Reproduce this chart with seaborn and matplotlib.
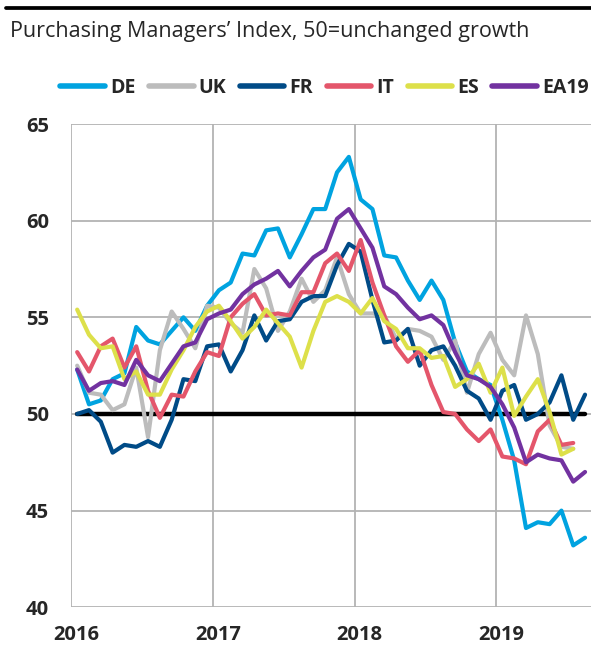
import numpy as np
import pandas as pd
import seaborn as sns
import matplotlib
matplotlib.use("Agg")
import matplotlib.pyplot as plt
from matplotlib.lines import Line2D
from matplotlib.transforms import ScaledTranslation

# monthly manufacturing PMI, Jan 2016 onwards (DE, FR, EA19 include Aug 2019 flash)
de = [52.3, 50.5, 50.7, 51.8, 52.1, 54.5, 53.8, 53.6, 54.3, 55.0, 54.3, 55.6,
      56.4, 56.8, 58.3, 58.2, 59.5, 59.6, 58.1, 59.3, 60.6, 60.6, 62.5, 63.3,
      61.1, 60.6, 58.2, 58.1, 56.9, 55.9, 56.9, 55.9, 53.7, 52.2, 51.8, 51.5,
      49.7, 47.6, 44.1, 44.4, 44.3, 45.0, 43.2, 43.6]
uk = [52.5, 51.1, 51.0, 50.2, 50.5, 52.4, 48.8, 53.3, 55.3, 54.4, 53.4, 55.6,
      55.5, 54.7, 54.2, 57.5, 56.5, 54.3, 55.3, 57.0, 55.8, 56.4, 58.1, 56.2,
      55.2, 55.2, 55.1, 53.9, 54.4, 54.3, 54.0, 52.8, 53.8, 51.1, 53.1, 54.2,
      52.8, 52.0, 55.1, 53.1, 49.4, 48.3, 48.2]
fr = [50.0, 50.2, 49.6, 48.0, 48.4, 48.3, 48.6, 48.3, 49.7, 51.8, 51.7, 53.5,
      53.6, 52.2, 53.3, 55.1, 53.8, 54.8, 54.9, 55.8, 56.1, 56.1, 57.7, 58.8,
      58.4, 55.9, 53.7, 53.8, 54.4, 52.5, 53.3, 53.5, 52.5, 51.2, 50.8, 49.7,
      51.2, 51.5, 49.7, 50.0, 50.6, 52.0, 49.7, 51.0]
it = [53.2, 52.2, 53.5, 53.9, 52.4, 53.5, 51.2, 49.8, 51.0, 50.9, 52.2, 53.2,
      53.0, 55.0, 55.7, 56.2, 55.1, 55.2, 55.1, 56.3, 56.3, 57.8, 58.3, 57.4,
      59.0, 56.8, 55.1, 53.5, 52.7, 53.3, 51.5, 50.1, 50.0, 49.2, 48.6, 49.2,
      47.8, 47.7, 47.4, 49.1, 49.7, 48.4, 48.5]
es = [55.4, 54.1, 53.4, 53.5, 51.8, 52.2, 51.0, 51.0, 52.3, 53.3, 54.5, 55.3,
      55.6, 54.8, 53.9, 54.5, 55.4, 54.7, 54.0, 52.4, 54.3, 55.8, 56.1, 55.8,
      55.2, 56.0, 54.8, 54.4, 53.4, 53.4, 52.9, 53.0, 51.4, 51.8, 52.6, 51.1,
      52.4, 49.9, 50.9, 51.8, 50.1, 47.9, 48.2]
ea19 = [52.3, 51.2, 51.6, 51.7, 51.5, 52.8, 52.0, 51.7, 52.6, 53.5, 53.7, 54.9,
        55.2, 55.4, 56.2, 56.7, 57.0, 57.4, 56.6, 57.4, 58.1, 58.5, 60.1, 60.6,
        59.6, 58.6, 56.6, 56.2, 55.5, 54.9, 55.1, 54.6, 53.2, 52.0, 51.8, 51.4,
        50.5, 49.3, 47.5, 47.9, 47.7, 47.6, 46.5, 47.0]

countries = ["DE", "UK", "FR", "IT", "ES", "EA19"]
series = [de, uk, fr, it, es, ea19]
colors = ["#00a3e0", "#bcbcbc", "#004b87", "#e4566b", "#dde04a", "#7232a0"]
years = [2016, 2017, 2018, 2019]

rows = []
for name, vals in zip(countries, series):
    for i, v in enumerate(vals):
        rows.append({"date": 2016 + (i + 0.5) / 12, "pmi": v, "country": name})
df = pd.DataFrame(rows)
months = 2016 + (np.arange(len(de)) + 0.5) / 12

sns.set_style("white")
plt.rcParams["font.family"] = ["Open Sans", "DejaVu Sans"]

fig = plt.figure(figsize=(5.91, 6.47), dpi=100)
ax = fig.add_axes([0.1206, 0.0614, 0.8794, 0.7469])

sns.lineplot(data=df, x="date", y="pmi", hue="country", hue_order=countries,
             palette=dict(zip(countries, colors)), linewidth=3, errorbar=None,
             legend=False, ax=ax)
ax.plot(months, [50] * len(months), color="black", lw=3.2, zorder=1.5)

ax.set_xlim(2016, 2019.667)
ax.set_ylim(40, 65)
ax.set_xticks(years)
ax.set_xticklabels([str(y) for y in years])
ax.set_yticks(range(40, 66, 5))
ax.set_xlabel("")
ax.set_ylabel("")
for s in ax.spines.values():
    s.set_visible(False)
ax.grid(True, color="#b3b3b3", lw=1.3)
ax.set_axisbelow(True)
ax.tick_params(axis="x", length=6, width=1.3, color="#b3b3b3", pad=7,
               labelsize=14.5)
ax.tick_params(axis="y", length=0, pad=16, labelsize=14.5)
for lab in ax.get_xticklabels() + ax.get_yticklabels():
    lab.set_fontweight("bold")
# year labels sit a little right of their ticks in the original
shift = ScaledTranslation(5 / 100, 0, fig.dpi_scale_trans)
for lab in ax.get_xticklabels():
    lab.set_transform(lab.get_transform() + shift)

handles = [Line2D([], [], color=c, lw=4) for c in colors]
leg = fig.legend(handles, countries, loc="center", bbox_to_anchor=(0.549, 0.864),
                 ncol=6, frameon=False, handlelength=2.3, handletextpad=0.25,
                 columnspacing=0.7, borderpad=0, prop={"weight": "bold", "size": 14})

fig.text(0.017, 0.943, "Purchasing Managers’ Index, 50=unchanged growth",
         fontsize=15.5, va="baseline", ha="left")
fig.add_artist(Line2D([0.01, 1.0], [0.988, 0.988], color="black", lw=2.7))

fig.savefig("out.png", dpi=100)
